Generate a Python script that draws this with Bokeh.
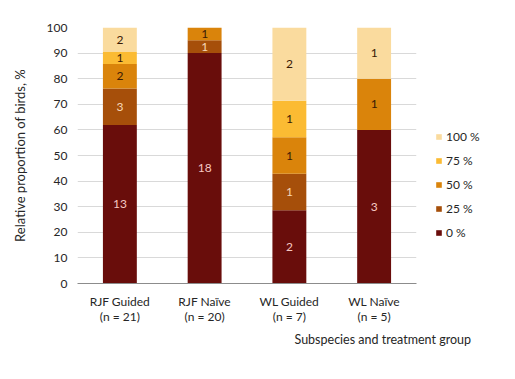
from bokeh.plotting import figure
from bokeh.models import ColumnDataSource, Legend, LegendItem, Title, FactorRange
from bokeh.embed import file_html
from bokeh.resources import INLINE
from bokeh.core.properties import value

# ---- data ----
groups = ["RJF Guided", "RJF Naïve", "WL Guided", "WL Naïve"]
group_n = [21, 20, 7, 5]
levels = ["0 %", "25 %", "50 %", "75 %", "100 %"]
count_0 = [13, 18, 2, 3]
count_25 = [3, 1, 1, 0]
count_50 = [2, 1, 1, 1]
count_75 = [1, 0, 1, 0]
count_100 = [2, 0, 2, 1]
y_ticks = list(range(0, 101, 10))

colors = ["#690D0B", "#A64F0A", "#DA840B", "#FBBB33", "#FADB9E"]
label_colors = ["#F6C8C2", "#F6D8B8", "#3A1A05", "#3A1A05", "#3A1A05"]
FONT = "Lato"

counts = [count_0, count_25, count_50, count_75, count_100]
factors = [f"{g}\n(n = {n})" for g, n in zip(groups, group_n)]
keys = [f"l{i}" for i in range(len(levels))]

data = {"x": factors}
for k, c in zip(keys, counts):
    data[k] = [v / n * 100 for v, n in zip(c, group_n)]
source = ColumnDataSource(data)

p = figure(x_range=FactorRange(*factors), y_range=(0, 100),
           frame_width=339, frame_height=256,
           min_border_left=77, min_border_top=27, min_border_right=83,
           min_border_bottom=80,
           output_backend="svg", toolbar_location=None)

renderers = p.vbar_stack(keys, x="x", width=0.4, color=colors, source=source,
                         line_color=None)

# segment count labels
lx, ly, lt, lc = [], [], [], []
for j, f in enumerate(factors):
    base = 0.0
    for i, k in enumerate(keys):
        h = data[k][j]
        if counts[i][j] > 0:
            lx.append(f)
            ly.append(base + h / 2)
            lt.append(str(counts[i][j]))
            lc.append(label_colors[i])
        base += h
lsrc = ColumnDataSource(dict(x=lx, y=ly, t=lt, c=lc))
p.text(x="x", y="y", text="t", text_color="c", source=lsrc,
       text_align="center", text_baseline="middle",
       text_font=value(FONT), text_font_size="12px")

# legend
items = [LegendItem(label=levels[i], renderers=[renderers[i]]) for i in reversed(range(len(levels)))]
legend = Legend(items=items, location=(19, 41))
legend.glyph_width = 7
legend.glyph_height = 7
legend.label_height = 20
legend.spacing = 4
legend.padding = 0
legend.margin = 0
legend.label_standoff = 4
legend.border_line_color = None
legend.background_fill_alpha = 0
legend.label_text_font = FONT
legend.label_text_font_size = "12px"
legend.label_text_color = "#262626"
p.add_layout(legend, "right")

# axes
p.yaxis.ticker = y_ticks
p.yaxis.axis_line_color = None
p.yaxis.major_tick_line_color = None
p.yaxis.minor_tick_line_color = None
p.yaxis.major_label_standoff = 4
p.yaxis.major_label_text_font = FONT
p.yaxis.major_label_text_font_size = "12px"
p.yaxis.major_label_text_color = "#262626"
p.yaxis.axis_label = "Relative proportion of birds, %"
p.yaxis.axis_label_text_font = FONT
p.yaxis.axis_label_text_font_size = "13px"
p.yaxis.axis_label_text_font_style = "normal"
p.yaxis.axis_label_text_color = "#262626"
p.yaxis.axis_label_standoff = 16

p.xaxis.axis_line_color = "#8C8C8C"
p.xaxis.major_tick_line_color = None
p.xaxis.minor_tick_line_color = None
p.xaxis.major_label_standoff = 4
p.xaxis.major_label_text_font = FONT
p.xaxis.major_label_text_font_size = "12px"
p.xaxis.major_label_text_color = "#262626"
p.xaxis.major_label_text_line_height = 1.0

p.xgrid.grid_line_color = None
p.ygrid.grid_line_color = "#D9D9D9"
p.outline_line_color = None

p.add_layout(Title(text="Subspecies and treatment group", align="left",
                   offset=217, text_font=FONT, text_font_size="12.5px",
                   text_font_style="normal", text_color="#262626",
                   standoff=6), "below")

open("out.html", "w").write(file_html(p, INLINE))
